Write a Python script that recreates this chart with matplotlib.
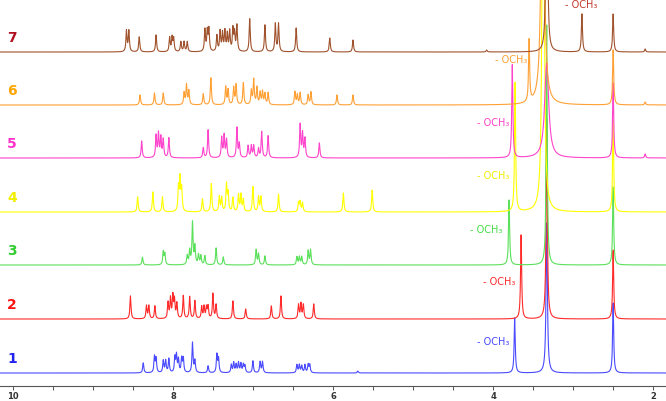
import numpy as np
import matplotlib
matplotlib.use('Agg')
import matplotlib.pyplot as plt

# peak lists: chemical shift (ppm) and peak height (px)
ppm1 = [8.37, 8.23, 8.21, 8.12, 8.09, 8.05, 7.975, 7.955, 7.93, 7.89, 7.87, 7.755, 7.725,
        7.56, 7.45, 7.43, 7.27, 7.24, 7.21, 7.18, 7.15, 7.12, 7.10, 7.00, 6.91, 6.88,
        6.45, 6.42, 6.39, 6.35, 6.31, 6.29, 5.69, 3.73]
h1 = [10, 16, 14, 12, 12, 14, 15, 17, 13, 14, 14, 30, 12,
      7, 18, 14, 8, 10, 8, 10, 9, 8, 7, 12, 11, 11,
      8, 8, 7, 8, 8, 8, 2, 55]

ppm2 = [8.53, 8.33, 8.30, 8.225, 8.06, 8.03, 8.00, 7.98, 7.95, 7.87, 7.79, 7.725,
        7.64, 7.61, 7.58, 7.56, 7.50, 7.46, 7.25, 7.09, 6.77, 6.65,
        6.43, 6.40, 6.37, 6.24, 3.65]
h2 = [23, 13, 13, 13, 16, 20, 22, 18, 15, 23, 22, 18,
      12, 12, 11, 12, 25, 14, 18, 10, 13, 23,
      14, 15, 14, 15, 84]

ppm3 = [8.38, 8.12, 8.10, 7.82, 7.79, 7.755, 7.725, 7.68, 7.65, 7.60, 7.46, 7.37,
        6.96, 6.93, 6.85, 6.45, 6.42, 6.39, 6.31, 6.28, 3.80]
h3 = [8, 13, 11, 9, 14, 42, 18, 10, 9, 9, 17, 8,
      15, 11, 9, 8, 8, 8, 14, 15, 65]

ppm4 = [8.44, 8.25, 8.13, 7.93, 7.91, 7.89, 7.63, 7.52, 7.42, 7.39, 7.33, 7.31, 7.25,
        7.18, 7.15, 7.12, 7.00, 6.93, 6.90, 6.68, 6.43, 6.41, 6.38, 5.87, 5.51, 3.725]
h4 = [15, 20, 15, 24, 32, 22, 13, 28, 15, 14, 27, 18, 14,
      17, 17, 12, 25, 15, 15, 18, 9, 10, 9, 19, 22, 129]

ppm5 = [8.39, 8.21, 8.18, 8.15, 8.12, 8.05, 7.62, 7.56, 7.39, 7.36, 7.33, 7.20, 7.17,
        7.06, 7.02, 6.99, 6.93, 6.89, 6.81, 6.41, 6.38, 6.35, 6.17, 3.76, 2.10]
h5 = [17, 22, 24, 20, 18, 20, 10, 28, 20, 22, 18, 30, 14,
      12, 12, 12, 9, 26, 22, 33, 24, 19, 15, 93, 4]

ppm6 = [8.41, 8.23, 8.12, 7.86, 7.83, 7.80, 7.62, 7.525, 7.34, 7.31, 7.24, 7.21, 7.12,
        7.02, 6.99, 6.95, 6.91, 6.88, 6.85, 6.81, 6.475, 6.445, 6.41, 6.31, 6.275,
        5.95, 5.75, 3.55, 2.10]
h6 = [10, 12, 12, 12, 20, 14, 11, 27, 18, 15, 17, 20, 22,
      14, 25, 17, 12, 13, 11, 12, 13, 10, 12, 10, 13,
      10, 10, 62, 3]

ppm7 = [8.58, 8.55, 8.42, 8.21, 8.04, 8.01, 7.99, 7.90, 7.86, 7.82, 7.60, 7.57, 7.55,
        7.45, 7.41, 7.38, 7.35, 7.32, 7.29, 7.25, 7.23, 7.20, 7.04, 6.85, 6.72, 6.68,
        6.46, 6.04, 5.75, 4.08, 2.89, 2.10]
h7 = [21, 21, 15, 17, 14, 14, 13, 10, 10, 10, 22, 20, 22,
      16, 20, 18, 20, 17, 20, 22, 18, 26, 33, 27, 28, 28,
      24, 14, 12, 2, 38, 3]

# solvent peaks: water (~3.3 ppm) and DMSO (2.50 ppm), with line widths
water_ppm = [3.33, 3.33, 3.33, 3.375, 3.33, 3.38, 3.33]
water_h = [150, 200, 240, 600, 95, 400, 400]
water_w = [0.01, 0.009, 0.008, 0.012, 0.03, 0.018, 0.008]
dmso_h = [70, 69, 78, 92, 75, 55, 38]

labels = ['1', '2', '3', '4', '5', '6', '7']
och3_ppm = [4.0, 3.925, 4.09, 4.0, 4.0, 3.775, 2.90]
och3_y = [44, 104, 156, 210, 263, 326, 381]

line_colors = ['#4a4aff', '#ff2a2a', '#5ae05a', '#ffff00', '#ff44cc', '#ffa035', '#a0522d']
text_colors = ['#2222ee', '#ff1010', '#33cc33', '#f2ee00', '#ff33cc', '#ffa500', '#b01020']
och3_colors = ['#4a4aff', '#ff2a2a', '#44dd44', '#f2ee00', '#ff44cc', '#ffa035', '#c0392b']
offsets = [13, 67, 121, 174, 228, 281, 334]

peaks = [(ppm1, h1), (ppm2, h2), (ppm3, h3), (ppm4, h4), (ppm5, h5), (ppm6, h6), (ppm7, h7)]

x = np.linspace(1.84, 10.16, 30000)


def lor(x0, h, w):
    return h * w**2 / ((x - x0)**2 + w**2)


fig = plt.figure(figsize=(6.66, 4.01), dpi=100)
ax = fig.add_axes([0, 15 / 401, 1, 386 / 401])

for i in range(7):
    y = np.zeros_like(x)
    for p, h in zip(*peaks[i]):
        y += lor(p, h, 0.008)
    y += lor(water_ppm[i], water_h[i], water_w[i])
    y += lor(2.50, dmso_h[i], 0.008)
    ax.plot(x, y + offsets[i], color=line_colors[i], lw=0.8)
    ax.text(10.01, offsets[i] + 14, labels[i], color=text_colors[i], fontsize=10,
            fontweight='bold', ha='center', va='center')
    ax.text(och3_ppm[i], och3_y[i], '- OCH₃', color=och3_colors[i], fontsize=7,
            ha='center', va='center')

ax.set_xlim(10.16, 1.84)
ax.set_ylim(0, 386)
for s in ['top', 'left', 'right']:
    ax.spines[s].set_visible(False)
ax.spines['bottom'].set_color('#555555')
ax.spines['bottom'].set_linewidth(0.8)
ax.set_yticks([])
ax.set_xticks([10, 8, 6, 4, 2])
ax.set_xticks(np.arange(2, 10.01, 0.5), minor=True)
ax.tick_params(axis='x', which='both', length=3, width=0.7, color='#555555',
               labelsize=6, pad=1.5)
for t in ax.get_xticklabels():
    t.set_fontweight('bold')
    t.set_color('#333333')

fig.savefig('out.png', dpi=100)
